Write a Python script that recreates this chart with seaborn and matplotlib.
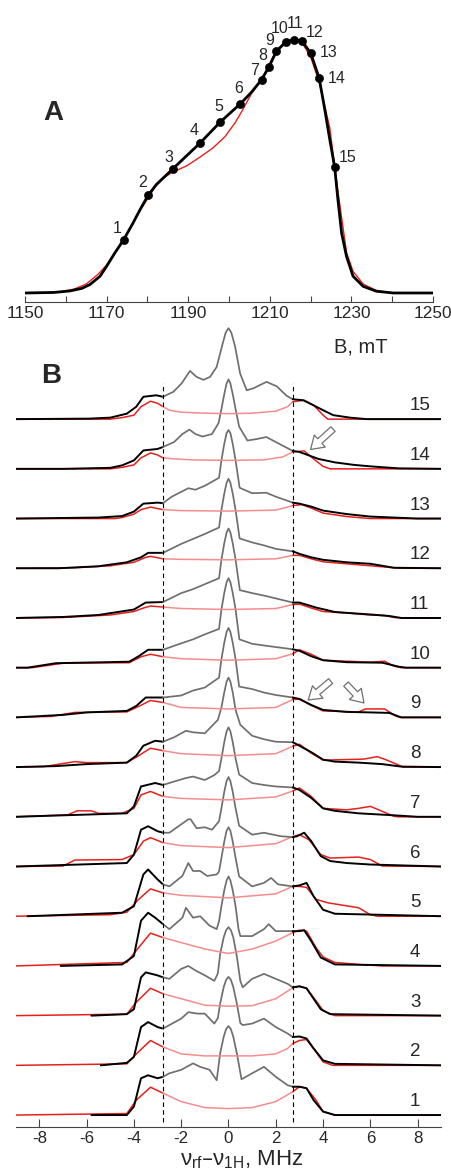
import pandas as pd
import matplotlib
matplotlib.use("Agg")
import matplotlib.pyplot as plt
import seaborn as sns

# =============================================================================
# PANEL A DATA: EPR field sweep (experiment vs simulation) + ENDOR positions
# =============================================================================
field_exp = [1150, 1157, 1161, 1163.9, 1165.9, 1168.4, 1170, 1172, 1174.2, 1176.5,
             1178.2, 1180.2, 1182.2, 1184.3, 1186.2, 1189.6, 1192.9, 1197.8, 1202.8, 1205.5,
             1208, 1209.8, 1211.6, 1213.9, 1215.9, 1217.9, 1220, 1222.1, 1223.5, 1224.7,
             1225.9, 1226.7, 1227.6, 1228.8, 1230.4, 1232.9, 1236.1, 1240.2, 1250]
int_exp = [0, 0.002, 0.008, 0.018, 0.033, 0.066, 0.105, 0.157, 0.21, 0.276,
           0.328, 0.385, 0.427, 0.459, 0.488, 0.54, 0.59, 0.672, 0.745, 0.79,
           0.84, 0.89, 0.951, 0.988, 0.997, 0.991, 0.945, 0.846, 0.72, 0.604,
           0.495, 0.367, 0.236, 0.144, 0.066, 0.026, 0.007, 0, 0]

field_sim = [1150, 1158, 1162, 1165, 1168, 1170, 1174, 1178, 1182, 1184.3,
             1186.2, 1189.6, 1192.9, 1196, 1199, 1201.5, 1203.5, 1205.5, 1208, 1211.6,
             1213.9, 1215.9, 1217.9, 1220, 1222.1, 1224.7, 1226.7, 1228.8, 1230.4, 1232.9,
             1236.1, 1240, 1250]
int_sim = [0, 0.003, 0.015, 0.035, 0.075, 0.11, 0.205, 0.32, 0.42, 0.457,
           0.476, 0.5, 0.535, 0.57, 0.615, 0.67, 0.725, 0.785, 0.84, 0.955,
           0.99, 0.997, 0.985, 0.93, 0.83, 0.65, 0.40, 0.16, 0.085, 0.035,
           0.01, 0, 0]

marker_field = [1174.2, 1180.2, 1186.2, 1192.9, 1197.8, 1202.8, 1208.0, 1209.8,
                1211.6, 1213.9, 1215.9, 1217.9, 1220.0, 1222.1, 1225.9]
marker_int = [0.21, 0.385, 0.488, 0.59, 0.672, 0.745, 0.84, 0.89,
              0.951, 0.988, 0.997, 0.991, 0.945, 0.846, 0.495]
marker_labels = [str(i) for i in range(1, 16)]
# label offsets in points (dx, dy) from each marker
marker_offsets = [(-5.0, 7.9), (-4.0, 9.4), (-2.7, 8.1), (-4.3, 8.9), (-1.2, 11.1),
                  (-1.0, 11.3), (-5.3, 6.7), (-4.8, 8.1), (-4.8, 7.9), (-4.3, 9.4),
                  (0.7, 11.5), (9.1, 6.0), (12.7, 0.4), (12.5, 0.0), (9.6, 6.8)]

# =============================================================================
# PANEL B DATA: ENDOR spectra, (MHz, height) pairs, one list per field position
# =============================================================================
exp_01 = [(-5.8, 0), (-4.3, 0.0), (-4.0, 0.17), (-3.7, 0.74), (-3.4, 0.8), (-3.0, 0.74), (-2.77, 0.77),
          (-2.5, 0.84), (-2.0, 0.91), (-1.5, 1.04), (-1.2, 0.97), (-0.8, 0.91), (-0.5, 0.7),
          (-0.35, 1.25), (-0.2, 1.58), (-0.1, 1.73), (0, 1.79), (0.1, 1.73), (0.2, 1.58), (0.35, 1.25),
          (0.55, 0.72), (1.0, 0.84), (1.5, 0.97), (2.0, 0.77), (2.5, 0.6),
          (2.72, 0.57), (3.0, 0.57), (3.3, 0.54), (3.6, 0.3), (4.0, 0.07), (4.5, 0), (9, 0)]
sim_01 = [(-9, 0), (-4.3, 0.03), (-3.9, 0.3), (-3.3, 0.56), (-2.77, 0.44), (-2.0, 0.27), (-1.0, 0.15),
          (0, 0.13), (1.0, 0.15), (2.0, 0.27), (2.72, 0.47), (3.0, 0.57), (3.3, 0.54), (3.7, 0.3),
          (4.0, 0.07), (4.5, 0), (9, 0)]

exp_02 = [(-5.4, 0), (-4.3, 0.05), (-4.0, 0.17), (-3.7, 0.77), (-3.4, 0.87), (-3.0, 0.77), (-2.77, 0.74),
          (-2.5, 0.81), (-2.0, 0.94), (-1.7, 1.07), (-1.3, 1.04), (-1.0, 1.04), (-0.6, 0.84),
          (-0.45, 0.95), (-0.35, 1.25), (-0.2, 1.58), (-0.1, 1.72), (0, 1.78), (0.1, 1.72), (0.2, 1.58),
          (0.35, 1.25), (0.5, 0.85), (0.6, 0.81), (1.0, 0.84), (1.5, 0.94), (2.0, 0.77), (2.5, 0.64),
          (2.72, 0.57), (3.0, 0.58), (3.3, 0.54), (3.6, 0.34), (4.0, 0.1), (4.5, 0.03), (9, 0)]
sim_02 = [(-9, 0), (-4.3, 0.03), (-3.9, 0.23), (-3.3, 0.5), (-2.77, 0.37), (-2.0, 0.23), (-1.0, 0.19),
          (0, 0.19), (1.0, 0.19), (2.0, 0.23), (2.5, 0.34), (2.72, 0.44), (3.0, 0.5), (3.3, 0.52),
          (3.7, 0.27), (4.0, 0.07), (4.4, 0), (9, 0)]

exp_03 = [(-5.8, 0), (-4.3, 0.03), (-4.0, 0.13), (-3.7, 0.77), (-3.5, 0.87), (-3.0, 0.81), (-2.77, 0.77),
          (-2.5, 0.74), (-2.0, 0.94), (-1.7, 1.0), (-1.4, 0.91), (-1.0, 0.81), (-0.6, 0.7),
          (-0.45, 0.85), (-0.35, 1.25), (-0.2, 1.58), (-0.1, 1.72), (0, 1.78), (0.1, 1.72), (0.2, 1.58),
          (0.35, 1.2), (0.5, 0.7), (0.6, 0.57), (1.0, 0.74), (1.5, 0.84), (2.0, 0.74), (2.5, 0.64),
          (2.72, 0.57), (3.0, 0.59), (3.3, 0.55), (3.6, 0.34), (3.9, 0.13), (4.3, 0.03), (9, 0)]
sim_03 = [(-9, 0), (-4.3, 0.03), (-3.9, 0.27), (-3.3, 0.55), (-2.77, 0.44), (-2.0, 0.34), (-1.0, 0.21),
          (0, 0.19), (1.0, 0.2), (2.0, 0.34), (2.72, 0.56), (3.0, 0.59), (3.3, 0.55), (3.7, 0.3),
          (4.0, 0.1), (4.5, 0), (9, 0)]

exp_04 = [(-7.1, 0), (-4.5, 0.03), (-4.0, 0.2), (-3.7, 0.91), (-3.4, 1.07), (-3.1, 0.97), (-2.77, 0.84),
          (-2.5, 0.74), (-1.95, 0.97), (-1.8, 1.17), (-1.5, 0.97), (-1.2, 1.0), (-0.8, 0.81), (-0.5, 0.74),
          (-0.4, 0.9), (-0.3, 1.2), (-0.18, 1.52), (-0.08, 1.72), (0, 1.8), (0.08, 1.72), (0.18, 1.52),
          (0.3, 1.2), (0.42, 0.75), (0.5, 0.6), (1.0, 0.6), (1.5, 0.74), (1.7, 0.84),
          (2.0, 0.7), (2.72, 0.7), (3.0, 0.7), (3.2, 0.72), (3.5, 0.5), (3.9, 0.17), (4.5, 0.03), (9, 0)]
sim_04 = [(-9, 0), (-4.3, 0.07), (-3.8, 0.37), (-3.3, 0.66), (-2.77, 0.57), (-2.0, 0.47), (-1.0, 0.34),
          (0, 0.25), (1.0, 0.34), (2.0, 0.5), (2.72, 0.67), (3.0, 0.72), (3.3, 0.7), (3.7, 0.37),
          (4.0, 0.18), (4.5, 0.07), (5.5, 0.03), (6.5, 0), (9, 0)]

exp_05 = [(-8.5, 0), (-4.5, 0.07), (-4.0, 0.2), (-3.6, 0.84), (-3.4, 0.94), (-3.0, 0.74), (-2.77, 0.64),
          (-2.5, 0.6), (-1.95, 0.81), (-1.7, 1.07), (-1.5, 0.91), (-1.2, 0.91), (-0.9, 0.81), (-0.5, 0.84),
          (-0.4, 0.9), (-0.3, 1.17), (-0.18, 1.5), (-0.08, 1.72), (0, 1.79), (0.08, 1.72), (0.18, 1.5),
          (0.3, 1.17), (0.45, 0.8), (1.0, 0.6), (1.5, 0.67), (1.8, 0.77),
          (2.1, 0.64), (2.72, 0.6), (3.0, 0.62), (3.3, 0.67), (3.6, 0.4), (4.0, 0.13), (4.5, 0.05), (9, 0)]
sim_05 = [(-9, 0), (-5.0, 0.03), (-4.3, 0.08), (-3.8, 0.34), (-3.3, 0.55), (-2.77, 0.47), (-2.0, 0.42),
          (0, 0.37), (2.0, 0.45), (2.72, 0.6), (3.0, 0.6), (3.3, 0.58), (3.7, 0.34), (4.2, 0.27),
          (5.5, 0.17), (6.0, 0.03), (6.3, 0), (9, 0)]

exp_06 = [(-9, 0), (-4.3, 0.07), (-4.0, 0.24), (-3.7, 0.74), (-3.4, 0.81), (-3.0, 0.71), (-2.77, 0.68),
          (-2.5, 0.68), (-1.7, 0.95), (-1.6, 0.95), (-1.35, 0.77), (-1.0, 0.79), (-0.7, 0.74),
          (-0.4, 0.91), (-0.3, 1.17), (-0.18, 1.5), (-0.08, 1.72), (0, 1.8), (0.08, 1.72), (0.18, 1.5),
          (0.3, 1.17), (0.45, 0.82), (1.0, 0.64), (1.5, 0.68), (1.9, 0.64),
          (2.2, 0.61), (2.72, 0.59), (2.9, 0.61), (3.2, 0.68), (3.5, 0.51), (3.9, 0.21), (4.3, 0.11),
          (5.0, 0.07), (6.0, 0.04), (9, 0)]
sim_06 = [(-9, 0), (-7.0, 0.01), (-6.5, 0.13), (-4.5, 0.14), (-4.0, 0.24), (-3.6, 0.51), (-3.3, 0.58),
          (-2.77, 0.48), (-2.0, 0.42), (0, 0.38), (2.0, 0.46), (2.72, 0.6), (3.0, 0.64), (3.4, 0.54),
          (3.9, 0.24), (4.3, 0.17), (5.5, 0.19), (6.0, 0.14), (6.5, 0.01), (9, 0)]

exp_07 = [(-9, 0), (-4.3, 0.07), (-4.0, 0.21), (-3.7, 0.61), (-3.1, 0.68), (-2.77, 0.64), (-2.3, 0.71),
          (-1.8, 0.78), (-1.5, 0.81), (-1.0, 0.74), (-0.6, 0.84), (-0.4, 0.92), (-0.3, 1.17),
          (-0.18, 1.5), (-0.08, 1.72), (0, 1.8), (0.08, 1.72), (0.18, 1.5), (0.3, 1.17), (0.45, 0.85),
          (1.0, 0.68), (1.5, 0.64), (2.0, 0.61), (2.72, 0.59), (3.0, 0.54), (3.5, 0.38),
          (4.0, 0.17), (4.5, 0.12), (5.5, 0.07), (7.0, 0.03), (8, 0), (9, 0)]
sim_07 = [(-9, 0), (-6.8, 0.04), (-6.4, 0.12), (-5.8, 0.12), (-5.5, 0.07), (-4.5, 0.07), (-4.0, 0.17),
          (-3.7, 0.44), (-3.3, 0.51), (-2.77, 0.41), (-2.0, 0.37), (0, 0.34), (2.0, 0.4), (2.72, 0.52),
          (3.0, 0.58), (3.5, 0.41), (4.0, 0.17), (5.0, 0.14), (5.5, 0.17), (6.0, 0.21), (6.5, 0.11),
          (7.0, 0.01), (7.2, 0), (9, 0)]

exp_08 = [(-9, 0), (-7.3, 0.02), (-6.0, 0.06), (-4.3, 0.09), (-3.9, 0.23), (-3.6, 0.43), (-3.1, 0.53),
          (-2.77, 0.51), (-2.3, 0.6), (-1.8, 0.73), (-1.5, 0.7), (-1.0, 0.68), (-0.45, 0.95),
          (-0.3, 1.2), (-0.18, 1.5), (-0.08, 1.72), (0, 1.8), (0.08, 1.72), (0.18, 1.5), (0.3, 1.15),
          (0.5, 0.85), (1.0, 0.63), (1.5, 0.56), (2.0, 0.51), (2.72, 0.5),
          (3.0, 0.43), (3.5, 0.3), (4.0, 0.15), (4.5, 0.11), (5.5, 0.09), (6.5, 0.06), (7.3, 0.01), (9, 0)]
sim_08 = [(-9, 0), (-7.8, 0.01), (-6.5, 0.11), (-6.0, 0.09), (-4.3, 0.09), (-3.9, 0.2), (-3.3, 0.38),
          (-2.77, 0.33), (-2.0, 0.27), (0, 0.23), (2.0, 0.27), (2.72, 0.42), (3.0, 0.46), (3.5, 0.28),
          (4.0, 0.14), (5.7, 0.16), (6.3, 0.21), (6.7, 0.14), (7.2, 0.04), (7.4, 0), (9, 0)]

exp_09 = [(-9, 0), (-7.0, 0.05), (-6.0, 0.1), (-4.3, 0.13), (-3.9, 0.23), (-3.5, 0.4), (-2.77, 0.4),
          (-2.0, 0.44), (-1.5, 0.54), (-1.0, 0.6), (-0.4, 0.8), (-0.3, 1.17), (-0.18, 1.5),
          (-0.08, 1.72), (0, 1.8), (0.08, 1.72), (0.18, 1.5), (0.3, 1.17), (0.45, 0.62),
          (1.0, 0.57), (1.5, 0.5), (2.0, 0.45), (2.72, 0.4), (3.0, 0.37), (3.5, 0.25),
          (4.0, 0.15), (5.0, 0.11), (6.0, 0.1), (6.8, 0.09), (7.3, 0), (9, 0)]
sim_09 = [(-9, 0), (-7.5, 0.02), (-6.5, 0.1), (-4.3, 0.11), (-3.8, 0.22), (-3.3, 0.34), (-2.77, 0.3),
          (-2.0, 0.2), (0, 0.17), (2.0, 0.2), (2.72, 0.36), (3.0, 0.37), (3.5, 0.24), (4.0, 0.13),
          (5.5, 0.11), (5.8, 0.17), (6.6, 0.17), (7.1, 0.02), (7.3, 0), (9, 0)]

exp_10 = [(-9, 0), (-8.5, 0), (-7.3, 0.09), (-4.2, 0.12), (-3.8, 0.23), (-3.4, 0.36), (-2.77, 0.36),
          (-2.3, 0.44), (-1.5, 0.57), (-1.0, 0.67), (-0.4, 0.78), (-0.3, 1.17), (-0.18, 1.5),
          (-0.08, 1.72), (0, 1.8), (0.08, 1.72), (0.18, 1.5), (0.3, 1.17), (0.46, 0.57),
          (1.0, 0.48), (1.6, 0.44), (2.72, 0.37), (3.0, 0.34), (3.5, 0.23), (4.0, 0.15),
          (5.0, 0.11), (6.5, 0.1), (7.2, 0.02), (7.5, 0), (9, 0)]
sim_10 = [(-9, 0), (-8.3, 0), (-7.0, 0.09), (-4.2, 0.1), (-3.7, 0.22), (-3.3, 0.27), (-2.77, 0.22),
          (-2.0, 0.18), (0, 0.15), (2.0, 0.18), (2.72, 0.28), (3.0, 0.36), (3.5, 0.27), (4.0, 0.15),
          (6.0, 0.11), (6.6, 0.13), (7.0, 0.03), (7.3, 0), (9, 0)]

exp_11 = [(-9, 0), (-7.0, 0.02), (-5.5, 0.06), (-4.0, 0.17), (-3.5, 0.31), (-2.77, 0.32), (-2.0, 0.5),
          (-1.5, 0.58), (-1.0, 0.68), (-0.4, 0.8), (-0.3, 1.17), (-0.18, 1.5), (-0.08, 1.72), (0, 1.8),
          (0.08, 1.72), (0.18, 1.5), (0.3, 1.17), (0.48, 0.56),
          (1.0, 0.5), (1.6, 0.44), (2.72, 0.31), (3.0, 0.31), (3.7, 0.21), (4.5, 0.12), (6.0, 0.07),
          (6.8, 0.04), (7.3, 0), (9, 0)]
sim_11 = [(-9, 0), (-7.0, 0.01), (-5.0, 0.06), (-4.0, 0.13), (-3.6, 0.2), (-3.3, 0.24), (-2.77, 0.22),
          (-2.0, 0.19), (0, 0.17), (2.0, 0.19), (2.72, 0.27), (3.0, 0.28), (3.5, 0.2), (4.0, 0.13),
          (5.0, 0.1), (6.0, 0.06), (6.6, 0.05), (7.0, 0.01), (7.5, 0), (9, 0)]

exp_12 = [(-9, 0), (-7.2, 0), (-5.5, 0.04), (-4.3, 0.12), (-3.7, 0.22), (-3.4, 0.31), (-2.77, 0.31),
          (-2.0, 0.49), (-1.5, 0.59), (-1.0, 0.69), (-0.4, 0.82), (-0.3, 1.17), (-0.18, 1.5),
          (-0.08, 1.72), (0, 1.8), (0.08, 1.72), (0.18, 1.5), (0.3, 1.17), (0.47, 0.6),
          (1.0, 0.52), (1.5, 0.46), (2.0, 0.39), (2.72, 0.34), (3.0, 0.29), (3.5, 0.22),
          (4.0, 0.17), (5.0, 0.12), (6.0, 0.09), (6.5, 0.05), (7.0, 0.01), (9, 0)]
sim_12 = [(-9, 0), (-6.5, 0.01), (-5.0, 0.05), (-4.0, 0.12), (-3.5, 0.22), (-3.3, 0.24), (-2.77, 0.19),
          (-2.0, 0.18), (0, 0.17), (2.0, 0.19), (2.72, 0.26), (3.0, 0.26), (3.5, 0.19), (4.0, 0.13),
          (5.0, 0.09), (6.0, 0.05), (7.0, 0.01), (7.5, 0), (9, 0)]

exp_13 = [(-9, 0), (-5.5, 0.02), (-4.5, 0.05), (-4.0, 0.14), (-3.6, 0.3), (-3.0, 0.32), (-2.77, 0.31),
          (-2.4, 0.44), (-1.7, 0.61), (-1.4, 0.58), (-1.0, 0.66), (-0.4, 0.82), (-0.3, 1.17),
          (-0.18, 1.5), (-0.08, 1.72), (0, 1.78), (0.08, 1.72), (0.18, 1.5), (0.3, 1.17), (0.47, 0.62),
          (1.0, 0.51), (1.6, 0.52), (2.0, 0.44), (2.72, 0.32), (3.0, 0.3),
          (3.5, 0.24), (4.0, 0.16), (5.0, 0.09), (6.0, 0.04), (7.0, 0.02), (8, 0), (9, 0)]
sim_13 = [(-9, 0), (-4.8, 0), (-4.5, 0.02), (-4.0, 0.09), (-3.7, 0.18), (-3.3, 0.23), (-3.0, 0.2),
          (-2.77, 0.18), (-2.0, 0.16), (0, 0.15), (2.0, 0.17), (2.72, 0.26), (3.1, 0.28), (3.5, 0.21),
          (4.0, 0.11), (5.0, 0.04), (6.0, 0), (9, 0)]

exp_14 = [(-9, 0), (-7.0, 0), (-5.0, 0.02), (-4.5, 0.07), (-4.0, 0.17), (-3.6, 0.37), (-3.0, 0.4),
          (-2.77, 0.44), (-2.3, 0.54), (-1.95, 0.7), (-1.65, 0.79), (-1.4, 0.7), (-1.1, 0.65), (-0.7, 0.7),
          (-0.42, 0.92), (-0.3, 1.2), (-0.18, 1.5), (-0.08, 1.72), (0, 1.8), (0.08, 1.72), (0.18, 1.5),
          (0.3, 1.2), (0.45, 0.85), (0.8, 0.57), (1.2, 0.6),
          (1.6, 0.64), (2.0, 0.54), (2.4, 0.44), (2.72, 0.36), (3.0, 0.34), (3.4, 0.27), (3.8, 0.2),
          (4.5, 0.13), (5.3, 0.08), (6.0, 0.05), (7.2, 0.01), (9, 0)]
sim_14 = [(-9, 0), (-5.0, 0), (-4.5, 0.03), (-4.0, 0.08), (-3.7, 0.22), (-3.3, 0.32), (-3.0, 0.28),
          (-2.77, 0.22), (-2.3, 0.2), (-1.5, 0.18), (0, 0.17), (1.5, 0.18), (2.3, 0.24), (2.72, 0.34),
          (3.2, 0.36), (3.6, 0.2), (4.0, 0.05), (4.3, 0), (9, 0)]

exp_15 = [(-9, 0), (-5.9, 0.01), (-5.0, 0.03), (-4.3, 0.11), (-3.9, 0.25), (-3.6, 0.45), (-3.05, 0.48),
          (-2.77, 0.45), (-2.33, 0.55), (-1.98, 0.72), (-1.63, 0.97), (-1.35, 0.85), (-1.06, 0.79),
          (-0.78, 0.85), (-0.5, 1.05), (-0.28, 1.46), (-0.12, 1.74), (0, 1.83), (0.12, 1.74),
          (0.28, 1.46), (0.49, 0.92), (0.77, 0.58),
          (1.05, 0.62), (1.61, 0.75), (2.04, 0.66), (2.46, 0.47), (2.72, 0.4), (3.16, 0.38), (3.59, 0.28),
          (4.0, 0.18), (4.43, 0.08), (5.14, 0.03), (5.84, 0), (9, 0)]
sim_15 = [(-9, 0), (-5.0, 0), (-4.5, 0.03), (-4.0, 0.08), (-3.7, 0.25), (-3.3, 0.36), (-3.0, 0.32),
          (-2.77, 0.25), (-2.5, 0.18), (-2.0, 0.14), (-1.0, 0.12), (0, 0.11), (1.0, 0.12), (2.0, 0.16),
          (2.5, 0.25), (2.72, 0.35), (3.2, 0.38), (3.6, 0.28), (4.0, 0.08), (4.2, 0), (9, 0)]

exp_spectra = [exp_01, exp_02, exp_03, exp_04, exp_05, exp_06, exp_07, exp_08,
               exp_09, exp_10, exp_11, exp_12, exp_13, exp_14, exp_15]
sim_spectra = [sim_01, sim_02, sim_03, sim_04, sim_05, sim_06, sim_07, sim_08,
               sim_09, sim_10, sim_11, sim_12, sim_13, sim_14, sim_15]
spec_labels = [str(i) for i in range(1, 16)]

# hollow arrows (tail -> tip) in MHz / offset units
arrows = [((4.42, 13.8), (3.47, 13.39)),
          ((4.32, 8.73), (3.37, 8.35)),
          ((4.97, 8.67), (5.73, 8.29))]

EDGE_L, EDGE_R = -2.77, 2.72

# =============================================================================
# STYLE
# =============================================================================
sns.set_theme(style="white")
plt.rcParams["font.family"] = ["Liberation Sans", "DejaVu Sans"]
plt.rcParams["mathtext.default"] = "regular"
plt.rcParams["axes.unicode_minus"] = False

BLACK = "black"
GRAY = "#6f6f6f"
RED = "#e8201c"
PINK = "#f58d8d"

fig = plt.figure(figsize=(4.51, 11.73), dpi=100)
axA = fig.add_axes([0.0554, 0.7423, 0.9047, 0.2492])
axB = fig.add_axes([0.0348, 0.0396, 0.9437, 0.6858])

# =============================================================================
# PANEL A
# =============================================================================
sns.lineplot(x=field_sim, y=int_sim, ax=axA, color=RED, lw=1.0, sort=False,
             estimator=None, legend=False)
sns.lineplot(x=field_exp, y=int_exp, ax=axA, color=BLACK, lw=2.0, sort=False,
             estimator=None, legend=False)
sns.scatterplot(x=marker_field, y=marker_int, ax=axA, s=34, color=BLACK,
                edgecolor=BLACK, zorder=5, legend=False)
for fx, fy, lab, (dx, dy) in zip(marker_field, marker_int, marker_labels, marker_offsets):
    axA.annotate(lab, (fx, fy), xytext=(dx, dy), textcoords="offset points",
                 ha="center", va="center", fontsize=11.5)

axA.set_xlim(1150, 1250)
axA.set_ylim(-0.0366, 1.114)
axA.set_xticks(range(1150, 1251, 20))
axA.set_xticks(range(1160, 1250, 20), minor=True)
axA.set_yticks([])
axA.tick_params(axis="x", which="both", direction="in", length=4, width=0.8,
                bottom=True, color="#444444", labelsize=12.4, pad=3)
for s in ["top", "right", "left"]:
    axA.spines[s].set_visible(False)
axA.spines["bottom"].set_color("#444444")
axA.spines["bottom"].set_linewidth(0.8)
axA.set_xlabel("")
axA.set_ylabel("")

# =============================================================================
# PANEL B
# =============================================================================
def split_draw(ax, pts, offset, c_out, c_in, lw_out, lw_in):
    df = pd.DataFrame(pts, columns=["mhz", "h"])
    df["y"] = df["h"] + offset
    parts = [(df[df.mhz <= EDGE_L], c_out, lw_out),
             (df[(df.mhz >= EDGE_L) & (df.mhz <= EDGE_R)], c_in, lw_in),
             (df[df.mhz >= EDGE_R], c_out, lw_out)]
    for part, c, lw in parts:
        if len(part) > 1:
            sns.lineplot(data=part, x="mhz", y="y", ax=ax, color=c, lw=lw,
                         sort=False, estimator=None, legend=False)


for i, (exp, sim) in enumerate(zip(exp_spectra, sim_spectra)):
    split_draw(axB, sim, i, RED, PINK, 1.1, 1.1)
    split_draw(axB, exp, i, BLACK, GRAY, 1.4, 1.25)
    axB.text(7.68, i + 0.27, spec_labels[i], ha="left", va="center", fontsize=13.5)

for xd in (EDGE_L, EDGE_R):
    axB.plot([xd, xd], [-0.13, 14.73], color=BLACK, lw=0.8, ls=(0, (4, 3)))

for tail, tip in arrows:
    axB.annotate("", xy=tip, xytext=tail,
                 arrowprops=dict(arrowstyle="simple,head_length=0.5,head_width=0.65,tail_width=0.25",
                                 mutation_scale=18, fc="white", ec="#707070", lw=0.9,
                                 shrinkA=0, shrinkB=0))

axB.set_xlim(-9, 9)
axB.set_ylim(-0.2313, 15.952)
axB.set_xticks(range(-8, 9, 2))
axB.set_yticks([])
axB.tick_params(axis="x", which="both", direction="in", length=6, width=0.8,
                bottom=True, color="#444444", labelsize=12.2, pad=3)
for s in ["top", "right", "left"]:
    axB.spines[s].set_visible(False)
axB.spines["bottom"].set_color("#444444")
axB.spines["bottom"].set_linewidth(0.8)
axB.set_xlabel("")
axB.set_ylabel("")

# =============================================================================
# TEXT LABELS
# =============================================================================
fig.text(0.1175, 0.9037, "A", fontsize=20, fontweight="bold", ha="center", va="center")
fig.text(0.113, 0.6795, "B", fontsize=20, fontweight="bold", ha="center", va="center")
fig.text(0.8004, 0.7042, "B, mT", fontsize=14.5, ha="center", va="center")
fig.text(0.537, 0.0068, r"$\nu_{rf}$–$\nu_{1H}$, MHz", fontsize=16, ha="center",
         va="baseline")

fig.savefig("out.png", dpi=100)
